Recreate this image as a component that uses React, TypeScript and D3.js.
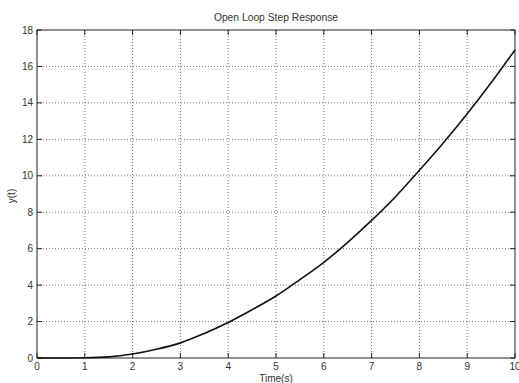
import React, { useEffect, useRef } from 'react';
import * as d3 from 'd3';

// step response samples
const times = [0, 0.5, 1, 1.5, 2, 2.5, 3, 3.5, 4, 4.5, 5, 5.5, 6, 6.5, 7, 7.5, 8, 8.5, 9, 9.5, 10];
const response = [0, 0, 0.01, 0.06, 0.22, 0.48, 0.83, 1.35, 1.95, 2.65, 3.4, 4.3, 5.25, 6.35, 7.55, 8.85, 10.3, 11.8, 13.4, 15.1, 16.9];
const xTicks = [0, 1, 2, 3, 4, 5, 6, 7, 8, 9, 10];
const yTicks = [0, 2, 4, 6, 8, 10, 12, 14, 16, 18];

const W = 519;
const H = 383;

const App = () => {
  const svgRef = useRef<SVGSVGElement>(null);

  useEffect(() => {
    const svg = d3.select(svgRef.current);
    svg.selectAll('*').remove();

    const margin = { top: 30, right: 4, bottom: 25, left: 37 };
    const width = W - margin.left - margin.right;
    const height = H - margin.top - margin.bottom;
    const font = 'Liberation Sans, Arial, sans-serif';
    const textColor = '#333';

    svg.append('rect').attr('width', W).attr('height', H).attr('fill', '#fff');

    const g = svg.append('g').attr('transform', `translate(${margin.left},${margin.top})`);

    const x = d3.scaleLinear().domain([0, 10]).range([0, width]);
    const y = d3.scaleLinear().domain([0, 18]).range([height, 0]);

    // dotted grid
    g.selectAll('.vgrid')
      .data(xTicks.slice(1, -1))
      .join('line')
      .attr('x1', d => x(d)).attr('x2', d => x(d))
      .attr('y1', 0).attr('y2', height)
      .attr('stroke', '#777').attr('stroke-width', 1)
      .attr('stroke-dasharray', '1,2');
    g.selectAll('.hgrid')
      .data(yTicks.slice(1, -1))
      .join('line')
      .attr('x1', 0).attr('x2', width)
      .attr('y1', d => y(d)).attr('y2', d => y(d))
      .attr('stroke', '#777').attr('stroke-width', 1)
      .attr('stroke-dasharray', '1,2');

    // axes box
    g.append('rect')
      .attr('width', width).attr('height', height)
      .attr('fill', 'none').attr('stroke', '#222').attr('stroke-width', 1);

    // inward ticks on all four sides
    const tl = 5;
    xTicks.forEach(t => {
      g.append('line').attr('x1', x(t)).attr('x2', x(t)).attr('y1', height).attr('y2', height - tl).attr('stroke', '#222');
      g.append('line').attr('x1', x(t)).attr('x2', x(t)).attr('y1', 0).attr('y2', tl).attr('stroke', '#222');
    });
    yTicks.forEach(t => {
      g.append('line').attr('x1', 0).attr('x2', tl).attr('y1', y(t)).attr('y2', y(t)).attr('stroke', '#222');
      g.append('line').attr('x1', width).attr('x2', width - tl).attr('y1', y(t)).attr('y2', y(t)).attr('stroke', '#222');
    });

    // tick labels
    g.selectAll('.xl')
      .data(xTicks)
      .join('text')
      .attr('x', d => x(d)).attr('y', height + 12)
      .attr('text-anchor', 'middle')
      .attr('font-family', font).attr('font-size', 10).attr('fill', textColor)
      .text(d => d);
    g.selectAll('.yl')
      .data(yTicks)
      .join('text')
      .attr('x', -4).attr('y', d => y(d) + 3.5)
      .attr('text-anchor', 'end')
      .attr('font-family', font).attr('font-size', 10).attr('fill', textColor)
      .text(d => d);

    // response curve
    const line = d3.line<number>()
      .x((d, i) => x(times[i]))
      .y(d => y(d))
      .curve(d3.curveMonotoneX);
    g.append('path')
      .datum(response)
      .attr('d', line)
      .attr('fill', 'none')
      .attr('stroke', '#111')
      .attr('stroke-width', 1.6);

    // title and axis labels
    svg.append('text')
      .attr('x', margin.left + width / 2).attr('y', 21)
      .attr('text-anchor', 'middle')
      .attr('font-family', font).attr('font-size', 10.3).attr('fill', textColor)
      .text('Open Loop Step Response');
    svg.append('text')
      .attr('x', margin.left + width / 2).attr('y', 382)
      .attr('text-anchor', 'middle')
      .attr('font-family', font).attr('font-size', 10).attr('fill', textColor)
      .text('Time(s)');
    svg.append('text')
      .attr('transform', `translate(15,${margin.top + height / 2 + 2}) rotate(-90)`)
      .attr('text-anchor', 'middle')
      .attr('font-family', font).attr('font-size', 10).attr('fill', textColor)
      .text('y(t)');
  }, []);

  return (
    <svg
      ref={svgRef}
      width={W}
      height={H}
      style={{ position: 'absolute', left: 0, top: 0, display: 'block' }}
    />
  );
};

export default App;
